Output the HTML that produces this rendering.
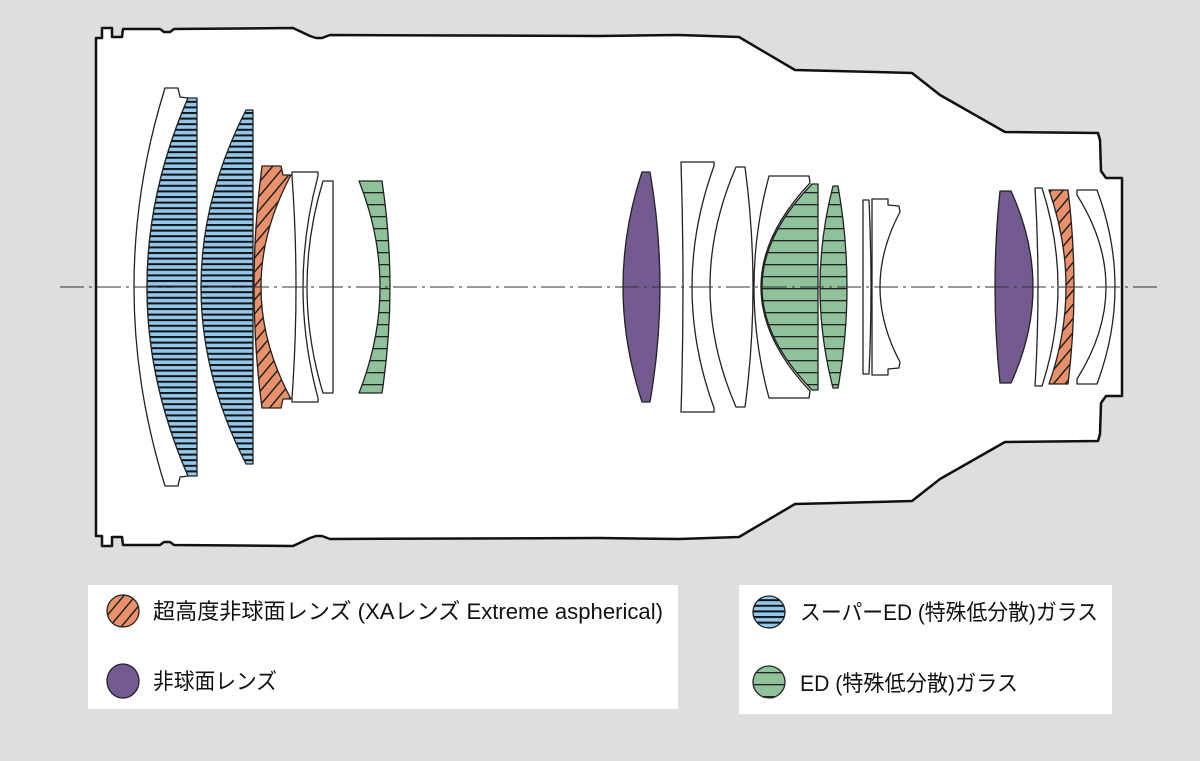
<!DOCTYPE html>
<html><head><meta charset="utf-8"><style>
html,body{margin:0;padding:0;background:#dedede;width:1200px;height:761px;overflow:hidden}
svg{display:block}
text{font-family:"Liberation Sans","Noto Sans CJK JP",sans-serif;font-size:22px;fill:#111}
</style></head><body>
<svg width="1200" height="761" viewBox="0 0 1200 761" xmlns="http://www.w3.org/2000/svg">
<defs>
<pattern id="blue" patternUnits="userSpaceOnUse" width="10" height="5.6">
<rect width="10" height="5.6" fill="#93c8ec"/><rect y="0" width="10" height="2" fill="#111"/>
</pattern>
<pattern id="green" patternUnits="userSpaceOnUse" width="10" height="12">
<rect width="10" height="12" fill="#8fc29a"/><rect y="0" width="10" height="1.3" fill="#222"/>
</pattern>
<pattern id="orange" patternUnits="userSpaceOnUse" width="9" height="9" patternTransform="rotate(40)">
<rect width="9" height="9" fill="#e8916a"/><rect width="1.5" height="9" fill="#222"/>
</pattern>
</defs>
<rect width="1200" height="761" fill="#dedede"/>
<path d="M96,38 L102,38 L102,28 L112,28 L112,37 L122,37 L123,29 L160,29 L164,32 L170,32 L174,29 L293,28 L310,36 L316,38 L322,38 L330,35 L600,36 L679,35 L739,37 L795,70 L912,73 L940,95 L1005,132 L1098,133 L1100,140 L1101,171 L1106,178 L1122,178
L1122,396 L1106,396 L1101,403 L1100,434 L1098,441 L1005,442 L940,479 L912,501 L795,504 L739,537 L679,539 L600,538 L330,539 L322,536 L316,536 L310,538 L293,546 L174,545 L170,542 L164,542 L160,545 L123,545 L122,537 L112,537 L112,546 L102,546 L102,536 L96,536 Z" fill="#fff" stroke="#111" stroke-width="2.5" stroke-linejoin="round"/>
<g stroke="#222" stroke-width="1.3" stroke-linejoin="round">
<path d="M165,88 L178,88 L180,97 L188,98 Q106,287 188,476 L180,477 L178,486 L165,486 Q103,287 165,88 Z" fill="#fff"/>
<path d="M188,98 L197,98 L197,476 L188,476 Q106,287 188,98 Z" fill="url(#blue)"/>
<path d="M246,110 L253,110 L253,464 L246,464 Q156,287 246,110 Z" fill="url(#blue)"/>
<path d="M262,166 L281,166 L283,175 L291,175 Q231,287 291,399 L283,399 L281,408 L262,408 Q246,287 262,166 Z" fill="url(#orange)"/>
<path d="M292,172 L318,172 L318,176 Q288,287 318,398 L318,402 L292,402 L292,398 Q300,287 292,176 Z" fill="#fff"/>
<path d="M323,181 L333,181 L333,393 L323,393 Q291,287 323,181 Z" fill="#fff"/>
<path d="M359,181 L382,181 Q398,287 382,393 L359,393 Q401,287 359,181 Z" fill="url(#green)"/>
<path d="M642,172 L650,172 Q670,287 650,402 L642,402 Q604,287 642,172 Z" fill="#735a91"/>
<path d="M681,162 L714,162 L714,166 Q670,287 714,408 L714,412 L681,412 Q685,287 681,162 Z" fill="#fff"/>
<path d="M736,167 L745,167 Q761,287 745,407 L736,407 Q684,287 736,167 Z" fill="#fff"/>
<path d="M769,176 L809,176 L810,183 Q712,287 810,391 L809,398 L769,398 Q739,287 769,176 Z" fill="#fff"/>
<path d="M812,184 L818,184 L818,390 L812,390 Q712,287 812,184 Z" fill="url(#green)"/>
<path d="M833,186 L838,186 Q856,287 838,388 L833,388 Q807,287 833,186 Z" fill="url(#green)"/>
<path d="M863,200 L869,200 Q873,287 869,374 L863,374 Z" fill="#fff"/>
<path d="M872,199 L888,199 L888,205 L899,206 L900,212 Q860,287 900,362 L899,368 L888,369 L888,375 L872,375 Z" fill="#fff"/>
<path d="M1000,191 L1011,191 Q1055,287 1011,383 L1000,383 Q990,287 1000,191 Z" fill="#735a91"/>
<path d="M1035,188 L1042,188 Q1074,287 1042,386 L1035,386 Q1041,287 1035,188 Z" fill="#fff"/>
<path d="M1049,190 L1068,190 Q1080,287 1068,384 L1049,384 Q1083,287 1049,190 Z" fill="url(#orange)"/>
<path d="M1077,190 L1097,190 Q1133,287 1097,384 L1077,384 L1077,379 Q1135,287 1077,195 Z" fill="#fff"/>
</g>
<line x1="60" y1="287" x2="1162" y2="287" stroke="#333" stroke-width="1" stroke-dasharray="24 5 3 5"/>
<rect x="88" y="585" width="590" height="124" fill="#fff"/>
<rect x="739" y="585" width="373" height="129" fill="#fff"/>
<g stroke="#222" stroke-width="1.3">
<circle cx="123" cy="611" r="16" fill="url(#orange)"/>
<ellipse cx="123" cy="681" rx="16" ry="17" fill="#735a91"/>
<circle cx="769" cy="612" r="16" fill="url(#blue)"/>
<circle cx="769" cy="682" r="16" fill="url(#green)"/>
</g>
<text x="153" y="619" textLength="510" lengthAdjust="spacingAndGlyphs">超高度非球面レンズ (XAレンズ Extreme aspherical)</text>
<text x="153" y="689" textLength="124" lengthAdjust="spacingAndGlyphs">非球面レンズ</text>
<text x="800" y="620" textLength="298" lengthAdjust="spacingAndGlyphs">スーパーED (特殊低分散)ガラス</text>
<text x="800" y="691" textLength="218" lengthAdjust="spacingAndGlyphs">ED (特殊低分散)ガラス</text>
</svg>
</body></html>
